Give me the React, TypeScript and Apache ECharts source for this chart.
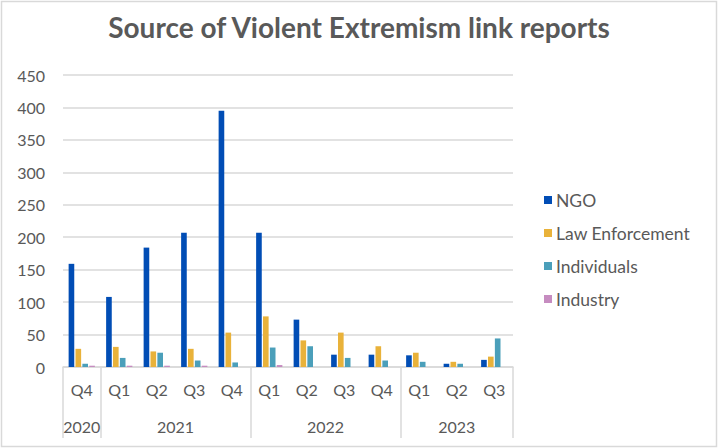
import React, { useEffect, useRef } from "react";
import * as echarts from "echarts";

const quarters = ["Q4", "Q1", "Q2", "Q3", "Q4", "Q1", "Q2", "Q3", "Q4", "Q1", "Q2", "Q3"];
const years = ["2020", "2021", "2022", "2023"];
const quartersPerYear = [1, 4, 4, 3];

const ngo = [159, 108, 184, 207, 395, 207, 73, 19, 19, 18, 5, 11];
const lawEnforcement = [28, 31, 24, 28, 53, 78, 41, 53, 32, 22, 8, 16];
const individuals = [5, 14, 22, 10, 7, 30, 32, 14, 10, 8, 5, 44];
const industry = [2, 2, 2, 2, 0, 3, 0, 0, 0, 0, 0, 0];

const seriesNames = ["NGO", "Law Enforcement", "Individuals", "Industry"];
const seriesColors = ["#014DB5", "#E9B23A", "#4B9FBA", "#C68CC0"];

const yTicks = [0, 50, 100, 150, 200, 250, 300, 350, 400, 450];

export default function App() {
  const ref = useRef<HTMLDivElement>(null);
  useEffect(() => {
    if (!ref.current) return;
    const chart = echarts.init(ref.current, null, { renderer: "svg" });

    const n = quarters.length;
    const yearAxisData: string[] = new Array(2 * n + 1).fill("");
    const boundaries: number[] = [0];
    let pos = 0;
    years.forEach((y, i) => {
      const cnt = quartersPerYear[i];
      yearAxisData[2 * pos + cnt] = y;
      pos += cnt;
      boundaries.push(2 * pos);
    });

    const textColor = "#595959";
    const gridColor = "#D9D9D9";
    const font = "Lato, 'Open Sans', sans-serif";
    const data = [ngo, lawEnforcement, individuals, industry];

    chart.setOption({
      animation: false,
      backgroundColor: "#fff",
      title: {
        text: "Source of Violent Extremism link reports",
        left: "center",
        top: 8,
        textStyle: { fontFamily: font, fontSize: 28, fontWeight: "bold", color: textColor },
      },
      graphic: [
        {
          type: "rect",
          shape: { x: 1.5, y: 1.5, width: 715, height: 445 },
          style: { fill: "none", stroke: gridColor, lineWidth: 1.5 },
          silent: true,
        },
      ],
      legend: {
        orient: "vertical",
        left: 544,
        top: 191,
        padding: 0,
        itemWidth: 8,
        itemHeight: 8,
        itemGap: 15,
        icon: "rect",
        textStyle: { fontFamily: font, fontSize: 17.5, color: textColor, padding: [0, 0, 0, -1] },
        data: seriesNames,
      },
      grid: { left: 63, right: 205, top: 75, bottom: 81, containLabel: false },
      xAxis: [
        {
          type: "category",
          data: quarters,
          position: "bottom",
          axisLine: { show: true, lineStyle: { color: gridColor, width: 1.5 } },
          axisTick: { show: false },
          axisLabel: { margin: 14, fontFamily: font, fontSize: 16, color: textColor },
        },
        {
          type: "category",
          data: yearAxisData,
          boundaryGap: false,
          position: "bottom",
          offset: 0,
          axisLine: { show: false },
          axisTick: {
            show: true,
            length: 71,
            interval: (idx: number) => boundaries.includes(idx),
            lineStyle: { color: gridColor, width: 1.5 },
          },
          axisLabel: {
            interval: 0,
            margin: 51,
            fontFamily: font,
            fontSize: 16,
            color: textColor,
          },
          splitLine: { show: false },
        },
      ],
      yAxis: {
        type: "value",
        min: 0,
        max: yTicks[yTicks.length - 1],
        interval: yTicks[1] - yTicks[0],
        axisLine: { show: false },
        axisTick: { show: false },
        axisLabel: { margin: 18, fontFamily: font, fontSize: 16, color: textColor },
        splitLine: { lineStyle: { color: gridColor, width: 1.5 } },
      },
      series: seriesNames.map((name, i) => ({
        name,
        type: "bar",
        xAxisIndex: 0,
        data: data[i],
        itemStyle: { color: seriesColors[i] },
        barGap: "22%",
        barCategoryGap: "30%",
      })),
    });
    return () => chart.dispose();
  }, []);
  return <div ref={ref} style={{ width: 718, height: 448, position: "absolute", left: 0, top: 0 }} />;
}
